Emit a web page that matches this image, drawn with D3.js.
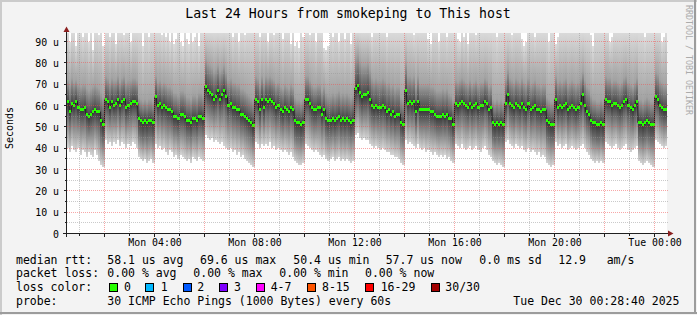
<!DOCTYPE html>
<html><head><meta charset="utf-8">
<script src="https://cdn.jsdelivr.net/npm/d3@7"></script>
<style>
html,body{margin:0;padding:0;background:#fff;}
svg{display:block;}
text{font-family:"DejaVu Sans Mono",monospace;white-space:pre;}
</style></head><body>
<svg id="c" width="697" height="315"></svg>
<script>
// ---------------- data ----------------
const title = "Last 24 Hours from smokeping to This host";
const yAxisTitle = "Seconds";
const watermark = "RRDTOOL / TOBI OETIKER";
const yTickValues = [0,10,20,30,40,50,60,70,80,90];
const yTickLabels = ["0","10 u","20 u","30 u","40 u","50 u","60 u","70 u","80 u","90 u"];
const xTickHours = [4,8,12,16,20,24];
const xTickLabels = ["Mon 04:00","Mon 08:00","Mon 12:00","Mon 16:00","Mon 20:00","Tue 00:00"];
const graphStart = "2025-12-29T00:28:40Z";
const graphEnd   = "2025-12-30T00:28:40Z";
const firstSample = "2025-12-29T00:30:00Z";
const stepMinutes = 5;

// median RTT (microseconds), one value per 5 minutes
const median = [
 62,57,61,60,62,59,58,58,59,56,55,56,57,58,57,57,53,51,
 63,62,59,62,60,61,63,60,62,63,59,60,61,62,62,61,54,53,52,53,52,53,53,52,
 64,60,61,59,60,59,58,58,57,55,55,54,56,56,55,53,53,52,54,54,53,55,55,54,
 69,67,66,65,63,64,67,63,65,67,64,60,61,59,59,58,58,56,56,55,54,53,52,50.4,
 63,62,58,63,59,63,62,63,62,61,59,60,58,57,59,58,57,59,58,53,52,52,51,52,
 63,63,61,59,58,58,59,59,56,58,54,53,53,54,53,54,55,53,54,53,54,53,52,53,
 68,69.6,66,64,65,65,66,63,60,59,60,59,59,60,59,57,58,56,57,55,56,56,52,51,
 67,61,62,61,62,57,62,58,58,58,58,58,57,57,56,55,55,55,56,55,56,54,54,51,
 61,60,61,62,61,60,59,61,59,60,61,59,60,60,62,61,58,59,52,51,52,51,52,51,
 61,65,61,60,59,61,60,59,61,59,58,61,58,59,60,58,58,57,58,58,53,52,51,51,
 63,59,60,59,60,61,58,59,60,59,58,59,61,65,60,57,56,53,52,52,51,51,52,51,
 63,62,62,60,61,61,60,59,60,62,63,60,59,58,60,62,52,52,51,52,53,52,51,51,
 64,63,60,59,58,58
];
// smoke: lowest ping, lower dense edge, upper dense edge, highest ping
const smokeLo = [
 40,38,41,39,38,40,37,39,38,36,38,37,36,39,37,34,32,31,
 44,42,43,41,43,42,44,41,43,42,40,42,41,43,42,40,36,35,34,35,33,34,35,33,
 42,40,41,39,40,38,37,39,38,36,37,35,37,36,35,34,35,33,36,35,34,36,35,34,
 46,45,44,45,43,44,43,42,43,41,40,39,40,38,39,37,38,36,37,35,34,33,32,31,
 43,42,40,42,41,42,41,43,40,41,39,40,39,38,39,38,37,38,36,34,33,32,32,33,
 42,41,40,39,38,39,38,37,36,37,35,34,35,36,34,35,36,34,35,34,35,34,33,34,
 46,47,45,44,45,44,44,42,41,40,41,40,39,40,39,38,38,37,37,36,36,35,33,32,
 44,42,43,42,41,40,42,40,39,40,38,39,38,37,38,37,36,37,36,37,35,36,34,33,
 42,41,40,42,40,39,40,41,39,40,41,39,38,40,41,39,37,36,34,33,32,33,32,31,
 43,44,42,41,40,42,41,40,41,39,38,40,38,39,38,37,38,36,37,36,33,32,31,32,
 43,41,42,40,41,42,39,40,41,40,39,40,41,42,40,38,37,35,34,33,34,33,34,33,
 43,42,41,40,41,42,40,39,40,41,42,39,38,39,40,41,34,33,32,33,34,33,32,31,
 44,43,42,41,40,41
];
const smokeQ1 = [
 55,52,55,54,55,53,52,52,53,50,49,50,51,52,51,50,46,44,
 57,56,54,56,55,55,57,54,56,57,53,54,55,56,56,55,47,46,45,46,45,46,46,45,
 58,54,55,53,54,53,52,52,51,49,49,48,50,50,49,47,47,46,48,48,47,49,49,48,
 62,60,59,58,57,58,60,57,58,60,57,54,55,53,53,52,52,50,50,49,48,47,46,44,
 57,56,52,57,53,57,56,57,56,55,53,54,52,51,53,52,51,53,52,46,45,45,44,45,
 57,57,55,53,52,52,53,53,50,52,48,47,47,48,47,48,49,47,48,47,48,47,46,47,
 61,62,59,57,58,58,59,56,54,53,54,53,53,54,53,51,52,50,51,49,50,50,46,45,
 60,55,56,55,56,51,56,52,52,52,52,52,51,51,50,49,49,49,50,49,50,48,47,45,
 55,54,55,56,55,54,53,55,53,54,55,53,54,54,56,55,52,53,45,44,45,44,45,44,
 55,59,55,54,53,55,54,53,55,53,52,55,52,53,54,52,52,51,52,52,46,45,44,44,
 57,53,54,53,54,55,52,53,54,53,52,53,55,58,54,51,50,47,45,45,44,44,45,44,
 57,56,56,54,55,55,54,53,54,56,57,54,53,52,54,56,45,45,44,45,46,45,44,44,
 58,57,54,53,52,52
];
const smokeQ3 = [
 72,70,73,71,72,70,69,70,70,68,67,68,69,70,69,68,66,64,
 74,73,71,73,72,72,74,71,73,74,71,72,72,73,73,72,64,63,62,63,62,63,63,62,
 74,71,72,70,71,70,69,69,68,66,66,65,67,67,66,64,64,63,65,65,64,66,66,65,
 82,80,79,78,76,77,79,76,77,79,76,72,73,71,71,70,70,68,68,67,66,65,64,63,
 74,73,70,74,71,74,73,74,73,72,70,71,69,68,70,69,68,70,69,64,63,63,62,63,
 74,74,72,70,69,69,70,70,67,69,66,65,65,66,65,66,67,65,66,65,66,65,64,65,
 83,84,81,79,79,79,80,77,73,72,73,72,72,73,72,70,71,69,70,68,69,69,64,63,
 80,74,74,73,74,69,74,70,70,70,70,70,69,69,68,67,67,67,68,67,68,66,65,63,
 72,71,72,73,72,71,70,72,70,71,72,70,71,71,73,72,69,70,63,62,63,62,63,62,
 73,77,73,72,71,73,72,71,73,71,70,73,70,71,72,70,70,69,70,70,64,63,62,62,
 74,71,72,71,72,73,70,71,72,71,70,71,73,76,72,69,68,65,63,63,62,62,63,62,
 74,73,73,71,72,72,71,70,71,73,74,71,70,69,71,73,63,63,62,63,64,63,62,62,
 76,75,72,71,70,70
];
const smokeHi = [
 95,90,95,95,88,95,95,92,95,95,90,95,86,95,95,93,95,88,
 95,95,92,95,95,89,95,95,95,93,95,95,90,95,95,95,95,95,88,95,95,92,95,95,
 95,95,95,93,95,92,95,90,95,89,91,95,90,88,95,91,89,95,90,92,95,88,95,95,
 95,95,95,95,95,95,95,95,95,95,95,95,95,92,95,95,90,95,95,93,95,95,95,95,
 95,95,92,95,95,95,90,95,95,93,95,95,95,91,95,95,95,89,95,88,90,87,95,92,
 95,95,93,95,95,90,95,95,95,87,86,88,95,92,95,95,90,95,95,91,95,95,89,95,
 95,95,95,95,95,95,95,95,92,95,95,95,95,95,95,92,95,95,95,95,95,95,95,95,
 95,95,95,95,93,95,95,95,95,95,95,91,89,95,95,95,90,95,95,95,92,95,95,95,
 95,91,90,95,92,95,89,95,95,95,93,95,95,95,95,95,95,95,95,95,92,95,95,95,
 95,95,95,93,95,95,95,95,91,88,90,95,95,95,92,95,95,95,95,95,95,90,95,95,
 89,92,95,95,95,95,95,95,95,95,95,95,95,95,95,95,95,93,88,95,95,95,95,95,
 95,95,90,92,95,95,95,95,95,95,95,95,95,95,95,95,95,95,95,92,95,95,95,95,
 95,95,95,90,92,95
];
const lossLabels = ["0","1","2","3","4-7","8-15","16-29","30/30"];
const lossColors = ["#26ff00","#00b8ff","#0059ff","#7e00ff","#ff00ff","#ff5500","#ff0000","#a10000"];
const rttStats = ["58.1 us avg","69.6 us max","50.4 us min","57.7 us now","0.0 ms sd","12.9","am/s"];
const lossStats = ["0.00 % avg","0.00 % max","0.00 % min","0.00 % now"];
const probeText = "30 ICMP Echo Pings (1000 Bytes) every 60s";
const stampText = "Tue Dec 30 00:28:40 2025";

// ---------------- drawing ----------------
const W = 697, H = 315;
const PX0 = 66.5, PX1 = 666.5, PY0 = 233.5, PY1 = 33.5;
const FONT = "DejaVu Sans Mono";
const svg = d3.select("#c");

const x = d3.scaleUtc().domain([new Date(graphStart), new Date(graphEnd)]).range([PX0, PX1]);
const y = d3.scaleLinear().domain([0, 93.75]).range([PY0, PY1]);

// background + 3d border
svg.append("rect").attr("width", W).attr("height", H).attr("fill", "#f3f3f3");
svg.append("rect").attr("x", 0).attr("y", 0).attr("width", W).attr("height", 2).attr("fill", "#cbcbcb");
svg.append("rect").attr("x", 0).attr("y", 0).attr("width", 2).attr("height", H).attr("fill", "#cbcbcb");
svg.append("rect").attr("x", 0).attr("y", H - 3).attr("width", W).attr("height", 2).attr("fill", "#9c9c9c");
svg.append("rect").attr("x", W - 3).attr("y", 0).attr("width", 2).attr("height", H - 1).attr("fill", "#9c9c9c");

// canvas
svg.append("rect").attr("x", 67).attr("y", 33).attr("width", 600).attr("height", 200).attr("fill", "#fff");

const defs = svg.append("defs");
defs.append("clipPath").attr("id", "plotclip").append("rect")
  .attr("x", 67).attr("y", 33).attr("width", 600).attr("height", 200.5);
function grad(id, top, bottom) {
  const g = defs.append("linearGradient").attr("id", id)
    .attr("x1", 0).attr("y1", 0).attr("x2", 0).attr("y2", 1);
  g.append("stop").attr("offset", "0%").attr("stop-color", top);
  g.append("stop").attr("offset", "100%").attr("stop-color", bottom);
}
grad("gUp", "#dcdcdc", "#a2a2a2");
grad("gUpIn", "#a2a2a2", "#454545");
grad("gLowIn", "#363636", "#6c6c6c");
grad("gLow", "#6c6c6c", "#d4d4d4");

const t0 = new Date(firstSample).getTime();
const stepMs = stepMinutes * 60000;
const cols = median.map((m, i) => ({
  a: new Date(t0 + i * stepMs), b: new Date(t0 + (i + 1) * stepMs),
  m, lo: smokeLo[i], q1: smokeQ1[i], q3: smokeQ3[i], hi: smokeHi[i]
}));

const plot = svg.append("g").attr("clip-path", "url(#plotclip)");
const smoke = plot.append("g").attr("shape-rendering", "crispEdges");
function band(key0, key1, gid) {
  smoke.append("g").selectAll("rect").data(cols).join("rect")
    .attr("x", d => x(d.a)).attr("width", d => x(d.b) - x(d.a) + 0.01)
    .attr("y", d => y(d[key1])).attr("height", d => Math.max(0, y(d[key0]) - y(d[key1])))
    .attr("fill", `url(#${gid})`);
}
band("lo", "q1", "gLow");
band("q1", "m", "gLowIn");
band("m", "q3", "gUpIn");
band("q3", "hi", "gUp");

// grid (dotted, drawn over the smoke)
const grid = svg.append("g").attr("stroke-dasharray", "1,1").attr("stroke-width", 1);
const hours = d3.range(1, 25).map(h => new Date(Date.UTC(2025, 11, 29, h)));
hours.forEach((d, i) => {
  const h = i + 1, xx = Math.round(x(d) - 0.5) + 0.5;
  grid.append("line").attr("x1", xx).attr("x2", xx).attr("y1", 33).attr("y2", 233)
    .attr("stroke", h % 2 === 0 ? "rgba(240,80,80,0.5)" : "rgba(150,150,150,0.5)");
});
d3.range(5, 95, 5).forEach(v => {
  const yy = Math.round(y(v) - 0.5) + 0.5;
  grid.append("line").attr("x1", 67).attr("x2", 668).attr("y1", yy).attr("y2", yy)
    .attr("stroke", v % 10 === 0 ? "rgba(240,80,80,0.5)" : "rgba(150,150,150,0.5)");
});

// median line + loss-colour median marks
plot.append("path").datum(cols.concat([{a: cols[cols.length - 1].b, m: cols[cols.length - 1].m}]))
  .attr("fill", "none").attr("stroke", "#202020").attr("stroke-width", 1)
  .attr("d", d3.line().x(d => x(d.a)).y(d => y(d.m)).curve(d3.curveStepAfter));
plot.append("g").attr("shape-rendering", "crispEdges").selectAll("rect").data(cols).join("rect")
  .attr("x", d => x(d.a)).attr("width", d => x(d.b) - x(d.a))
  .attr("y", d => y(d.m) - 1.5).attr("height", 3)
  .attr("fill", lossColors[0]);

// ticks on axes
const tk = svg.append("g").attr("stroke", "#202020").attr("shape-rendering", "crispEdges");
hours.forEach((d, i) => {
  const xx = Math.round(x(d) - 0.5) + 0.5, major = (i + 1) % 2 === 0;
  tk.append("line").attr("x1", xx).attr("x2", xx).attr("y1", 233).attr("y2", major ? 236.5 : 235.5);
});
d3.range(0, 95, 5).forEach(v => {
  const yy = Math.round(y(v) - 0.5) + 0.5;
  tk.append("line").attr("x1", v % 10 === 0 ? 63.5 : 64.5).attr("x2", 67).attr("y1", yy).attr("y2", yy);
});

// axis lines + arrows
svg.append("line").attr("x1", 63).attr("x2", 670).attr("y1", 233.5).attr("y2", 233.5)
  .attr("stroke", "#202020").attr("stroke-width", 1);
svg.append("line").attr("x1", 66.5).attr("x2", 66.5).attr("y1", 237).attr("y2", 30)
  .attr("stroke", "#202020").attr("stroke-width", 1);
svg.append("path").attr("d", "M668,230.5 L673.5,233.5 L668,236.5 Z").attr("fill", "#8b1f1f");
svg.append("path").attr("d", "M63.5,32 L66.5,26.5 L69.5,32 Z").attr("fill", "#8b1f1f");

// axis labels through d3 axes
const gx = svg.append("g").attr("transform", `translate(0,${PY0})`)
  .call(d3.axisBottom(x).tickValues(xTickHours.map(h => new Date(Date.UTC(2025, 11, 29, h))))
    .tickFormat((d, i) => xTickLabels[i]).tickSize(0).tickPadding(5.5));
gx.select(".domain").remove();
gx.attr("font-family", FONT).attr("font-size", 9.9);
gx.selectAll("text").attr("fill", "#000");

const gy = svg.append("g").attr("transform", `translate(${PX0},0)`)
  .call(d3.axisLeft(y).tickValues(yTickValues).tickFormat((d, i) => yTickLabels[i]).tickSize(0).tickPadding(7.5));
gy.select(".domain").remove();
gy.attr("font-family", FONT).attr("font-size", 9.9);
gy.selectAll("text").attr("fill", "#000").attr("dy", "0.36em");

// titles
svg.append("text").attr("x", 348).attr("y", 18.3).attr("text-anchor", "middle")
  .attr("font-size", 13.2).attr("fill", "#000").text(title);
svg.append("text").attr("transform", "translate(13.3,128) rotate(-90)").attr("text-anchor", "middle")
  .attr("font-size", 10).attr("fill", "#000").text(yAxisTitle);
svg.append("text").attr("transform", "translate(685.5,5) rotate(90)")
  .attr("font-size", 8.3).attr("fill", "#ababab").text(watermark);

// legend rows
const LF = 11.5;
function t(xp, yp, s) {
  svg.append("text").attr("x", xp).attr("y", yp).attr("font-size", LF).attr("fill", "#000").text(s);
}
const r1 = 263.5, r2 = 277.3, r3 = 291.1, r4 = 305;
t(16, r1, "median rtt:");
[107.3, 200, 293.3, 385.7, 479.3, 558.3, 606.7].forEach((xp, i) => t(xp, r1, rttStats[i]));
t(16, r2, "packet loss:");
[107.3, 193.3, 279.3, 365].forEach((xp, i) => t(xp, r2, lossStats[i]));
t(16, r3, "loss color:");
const boxX = [108.7, 145.3, 182.7, 219.3, 256, 307.3, 365, 430.7];
const labX = [124, 160.7, 197.3, 234, 270.7, 322, 380.7, 445.3];
lossLabels.forEach((lab, i) => {
  svg.append("rect").attr("x", Math.round(boxX[i]) + 0.5).attr("y", 283.5).attr("width", 8).attr("height", 8)
    .attr("fill", lossColors[i]).attr("stroke", "#000").attr("stroke-width", 1);
  t(labX[i], r3, lab);
});
t(16, r4, "probe:");
t(107.3, r4, probeText);
t(513.3, r4, stampText);
</script>
</body></html>
